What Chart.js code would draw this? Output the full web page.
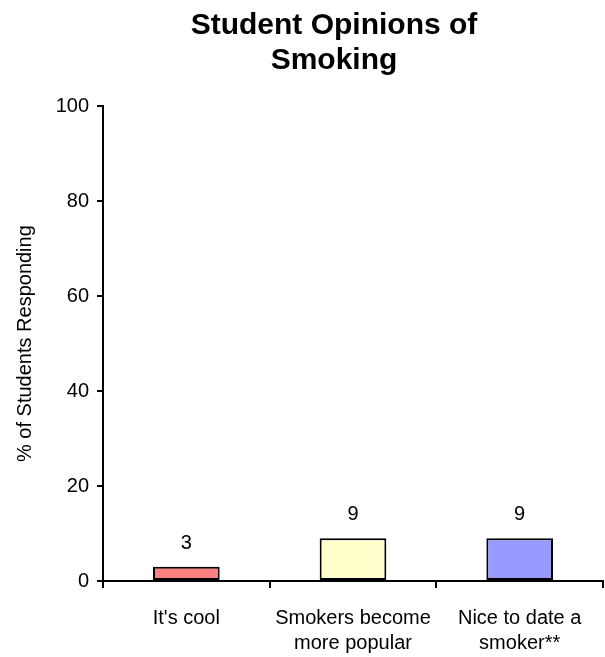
<!DOCTYPE html>
<html>
<head>
<meta charset="utf-8">
<script src="https://cdn.jsdelivr.net/npm/chart.js@4.4.0/dist/chart.umd.min.js"></script>
<style>
  body { margin: 0; background: #fff; }
  #wrap { width: 605px; height: 657px; }
</style>
</head>
<body>
<div id="wrap"><canvas id="chartdiv"></canvas></div>
<script>
const categories = [["It's cool"], ["Smokers become", "more popular"], ["Nice to date a", "smoker**"]]
const values = [3, 9, 9]
const barColors = ['#FF8080', '#FFFFCC', '#9999FF']
const yTicks = [0, 20, 40, 60, 80, 100]

const sans = '"Liberation Sans", Arial, sans-serif'

// value labels above each bar
const valueLabels = {
    id: 'valueLabels',
    afterDatasetsDraw(chart) {
        const ctx = chart.ctx
        const meta = chart.getDatasetMeta(0)
        ctx.save()
        ctx.font = '20px ' + sans
        ctx.fillStyle = '#000'
        ctx.textAlign = 'center'
        ctx.textBaseline = 'alphabetic'
        meta.data.forEach(function (bar, i) {
            ctx.fillText(String(values[i]), bar.x, bar.y - 18)
        })
        ctx.restore()
    }
}

// title sits a bit right of the canvas centre in the original
const titleShift = {
    id: 'titleShift',
    afterLayout(chart) {
        if (chart.titleBlock) {
            chart.titleBlock.left = 63
            chart.titleBlock.right = 605
        }
    }
}

const yAxis = {
    min: 0,
    max: 100,
    afterBuildTicks: function (scale) {
        scale.ticks = yTicks.map(v => ({value: v}))
    },
    afterFit: function (scale) { scale.width = 103 },
    ticks: {color: '#000', font: {family: sans, size: 20}, padding: 8},
    grid: {display: true, drawOnChartArea: false, color: '#000', tickLength: 6, lineWidth: 2},
    border: {display: true, color: '#000', width: 2},
    title: {display: true, text: '% of Students Responding', color: '#000',
            font: {family: sans, size: 20}, padding: {top: 13, bottom: 0}}
}

const xAxis = {
    afterFit: function (scale) { scale.height = 76 },
    ticks: {color: '#000', font: {family: sans, size: 20, lineHeight: 1.25},
            padding: 18, maxRotation: 0, minRotation: 0, autoSkip: false},
    grid: {display: true, drawOnChartArea: false, offset: true, color: '#000', tickLength: 7, lineWidth: 2},
    border: {display: true, color: '#000', width: 2}
}

const myChart = new Chart(document.getElementById('chartdiv').getContext('2d'), {
    type: 'bar',
    data: {
        labels: categories,
        datasets: [{
            data: values,
            backgroundColor: barColors,
            borderColor: '#000',
            borderWidth: 2,
            borderSkipped: false,
            categoryPercentage: 1,
            barPercentage: 0.4
        }]
    },
    options: {
        responsive: true,
        maintainAspectRatio: false,
        animation: {duration: 0},
        layout: {padding: {left: 0, right: 2, top: 0, bottom: 0}},
        plugins: {
            legend: {display: false},
            tooltip: {enabled: false},
            title: {
                display: true,
                text: ['Student Opinions of', 'Smoking'],
                color: '#000',
                font: {family: sans, size: 30, weight: 'bold', lineHeight: 1.17},
                padding: {top: 8, bottom: 28}
            }
        },
        scales: {y: yAxis, x: xAxis}
    },
    plugins: [valueLabels, titleShift]
})
</script>
</body>
</html>
